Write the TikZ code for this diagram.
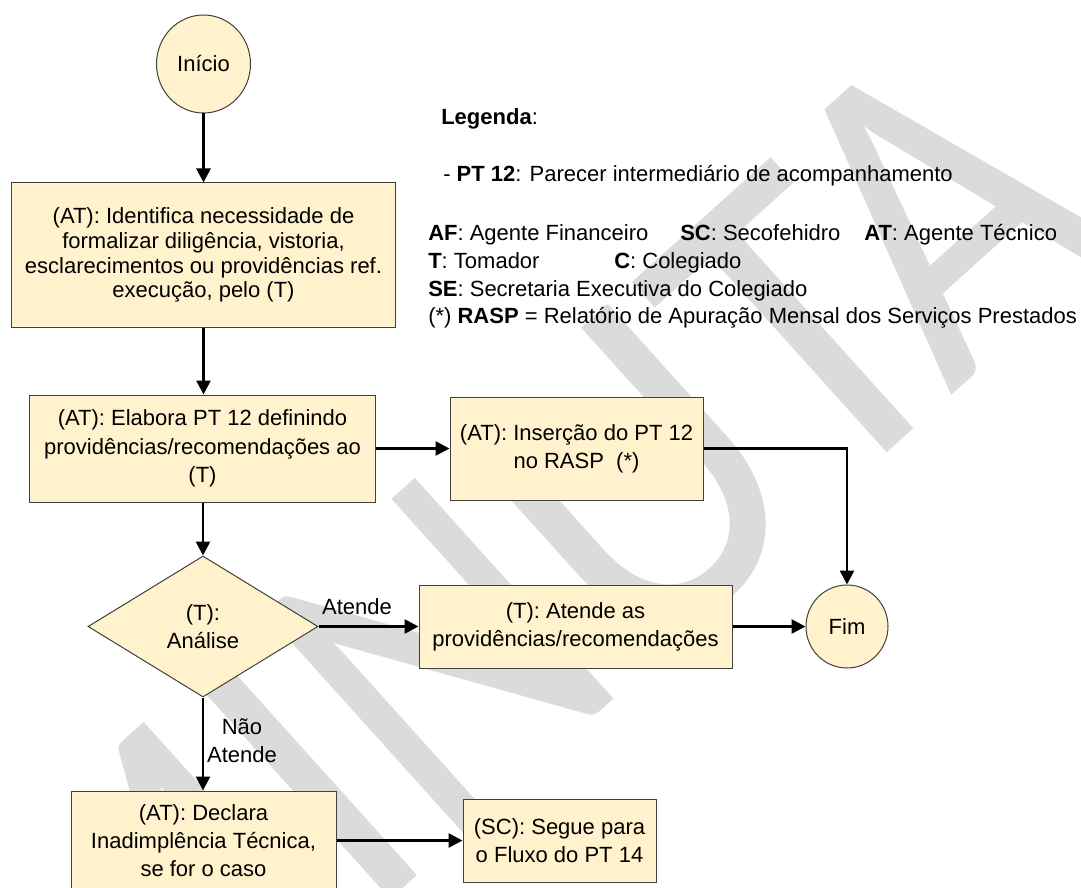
\documentclass[tikz,border=0pt]{standalone}
\usepackage{fontspec}
\setmainfont{Liberation Sans}
\newfontfamily\wmfont{Carlito}
\usepackage{graphicx}
\usetikzlibrary{shapes.geometric,arrows.meta}
\definecolor{boxfill}{RGB}{255,242,204}
\definecolor{boxline}{RGB}{64,64,64}
\definecolor{wm}{RGB}{219,219,219}
\tikzset{
  flowbox/.style={draw=boxline, fill=boxfill, line width=0.75pt, align=center, inner sep=0pt,
    font=\fontsize{16.5}{21.2}\selectfont},
  term/.style={flowbox, ellipse},
  decision/.style={flowbox, diamond, aspect=1.63},
  conn/.style={line width=2pt, -{Triangle[length=10.5pt,width=10.5pt]}},
  lbl/.style={font=\fontsize{16.5}{21.2}\selectfont, inner sep=0pt, align=center},
  legend/.style={font=\fontsize{16.5}{20}\selectfont, inner sep=0pt, anchor=base west},
}
\begin{document}
\begin{tikzpicture}[x=0.75pt,y=-0.75pt]
\useasboundingbox[fill=white] (0,0) rectangle (1081,888);
% watermark
\node[text=wm, rotate=42, anchor=base, inner sep=0pt] (wmark) at (617,696)
  {\scalebox{1}[1.15]{\wmfont\fontsize{302}{305}\selectfont MINUTA}};
% legend
\node[legend] (leg0) at (441,125) {\textbf{Legenda}:};
\node[legend] (leg1) at (443,181) {- \textbf{PT 12}: Parecer intermediário de acompanhamento};
\node[legend] (leg2) at (428,240) {\textbf{AF}: Agente Financeiro};
\node[legend] (leg3) at (680,240) {\textbf{SC}: Secofehidro};
\node[legend] (leg4) at (864,240) {\textbf{AT}: Agente Técnico};
\node[legend] (leg5) at (428,268) {\textbf{T}: Tomador};
\node[legend] (leg6) at (614,268) {\textbf{C}: Colegiado};
\node[legend] (leg7) at (428,296) {\textbf{SE}: Secretaria Executiva do Colegiado};
\node[legend] (leg8) at (428,323) {(*) \textbf{RASP} = Relatório de Apuração Mensal dos Serviços Prestados};
% flow nodes
\node[term, minimum width=70.5pt, minimum height=73.5pt] (ini) at (203.5,64) {Início};
\node[flowbox, minimum width=288pt, minimum height=108pt, font=\fontsize{16.5}{18.6}\selectfont] (b1) at (203.5,255)
  {(AT): Identifica necessidade de\\formalizar diligência, vistoria,\\esclarecimentos ou providências ref.\\execução, pelo (T)};
\node[flowbox, minimum width=259.5pt, minimum height=80.25pt] (b2) at (202.5,448.5)
  {(AT): Elabora PT 12 definindo\\providências/recomendações ao\\(T)};
\node[flowbox, minimum width=189.75pt, minimum height=77.25pt] (b3) at (576.5,448.5)
  {(AT): Inserção do PT 12\\no RASP~~(*)};
\node[decision, minimum width=172.5pt, minimum height=105.75pt] (dia) at (203,626.5)
  {(T):\\Análise};
\node[flowbox, minimum width=234.75pt, minimum height=62.25pt] (b4) at (575.5,626.5)
  {(T): Atende as\\providências/recomendações};
\node[term, minimum width=61.5pt, minimum height=62.25pt] (fim) at (847,626.5) {Fim};
\node[flowbox, minimum width=198.75pt, minimum height=74.25pt] (b5) at (203.5,840.5)
  {(AT): Declara\\Inadimplência Técnica,\\se for o caso};
\node[flowbox, minimum width=144.75pt, minimum height=62.25pt] (b6) at (559.5,840.5)
  {(SC): Segue para\\o Fluxo do PT 14};
% labels
\node[lbl] (latende) at (357,607) {Atende};
\node[lbl] (lnao) at (242,741) {Não\\Atende};
% connectors
\draw[conn] (ini.south) -- (b1.north);
\draw[conn] (b1.south) -- (b1.south |- b2.north);
\draw[conn] (b2.east) -- (b3.west);
\draw[conn] (dia.north |- b2.south) -- (dia.north);
\draw[conn] (b3.east) -| (fim.north);
\draw[conn] (dia.east) -- (b4.west);
\draw[conn] (b4.east) -- (fim.west);
\draw[conn] (dia.south) -- (dia.south |- b5.north);
\draw[conn] (b5.east) -- (b6.west);
\end{tikzpicture}
\end{document}
